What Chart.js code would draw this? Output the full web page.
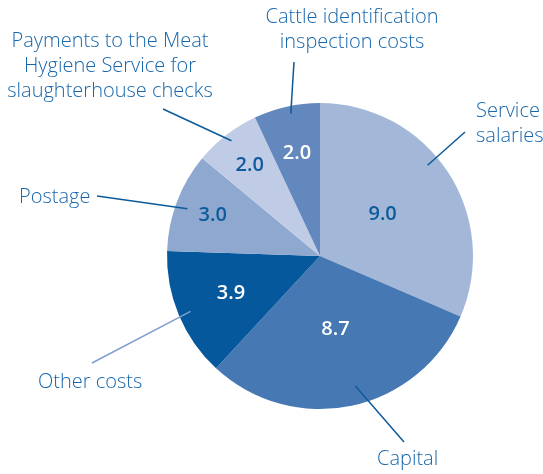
<!DOCTYPE html>
<html>
<head>
<meta charset="utf-8">
<script src="https://cdn.jsdelivr.net/npm/chart.js@4/dist/chart.umd.min.js"></script>
<style>
  html, body { margin: 0; padding: 0; background: #fff; }
  #wrap { width: 543px; height: 474px; }
</style>
</head>
<body>
<div id="wrap"><canvas id="pieChart" width="543" height="474"></canvas></div>
<script>
// data
const categories = [
    'Service salaries',
    'Capital',
    'Other costs',
    'Postage',
    'Payments to the Meat Hygiene Service for slaughterhouse checks',
    'Cattle identification inspection costs'
];
const values = [9.0, 8.7, 3.9, 3.0, 2.0, 2.0];
const valueLabels = ['9.0', '8.7', '3.9', '3.0', '2.0', '2.0'];

// styling
const sliceColors = ['#A3B8D8', '#4679B4', '#04589B', '#8EA8D0', '#C0CCE6', '#6288BE'];
const valueTextColors = ['#0D5A9C', '#FFFFFF', '#FFFFFF', '#0D5A9C', '#0D5A9C', '#FFFFFF'];
const valueRadius = [0.49, 0.49, 0.63, 0.75, 0.75, 0.69];

// outer labels: text lines, anchor, alignment, leader line end
const outerLabels = [
    { lines: ['Service', 'salaries'], x: 476, y: 117, align: 'left', lineEnd: [465, 132], t: 0.44, r: 0.92, lineColor: '#0D5A9A' },
    { lines: ['Capital'], x: 377, y: 465, align: 'left', lineEnd: [404, 442], t: 0.47, r: 0.88, lineColor: '#0D5A9A' },
    { lines: ['Other costs'], x: 38, y: 388, align: 'left', lineEnd: [92, 363], t: 0.49, r: 0.92, lineColor: '#7E9FD0' },
    { lines: ['Postage'], x: 19, y: 203, align: 'left', lineEnd: [97, 196], t: 0.47, r: 0.92, lineColor: '#0D5A9A' },
    { lines: ['Payments to the Meat', 'Hygiene Service for', 'slaughterhouse checks'], x: 110, y: 47, align: 'center', lineEnd: [163, 109], t: 0.51, r: 0.95, lineColor: '#0D5A9A' },
    { lines: ['Cattle identification', 'inspection costs'], x: 352, y: 23, align: 'center', lineEnd: [294, 62], t: 0.54, r: 0.95, lineColor: '#0D5A9A' }
];

const FONT = '"Open Sans", "Noto Sans", sans-serif';

const labelPlugin = {
    id: 'pieLabels',
    afterDatasetsDraw(chart) {
        const ctx = chart.ctx;
        const arcs = chart.getDatasetMeta(0).data;
        ctx.save();
        arcs.forEach((arc, i) => {
            const { x, y, startAngle, endAngle, outerRadius } = arc.getProps(['x', 'y', 'startAngle', 'endAngle', 'outerRadius'], true);

            // value inside the slice
            const mid = (startAngle + endAngle) / 2;
            const vr = outerRadius * valueRadius[i];
            ctx.font = '600 20px ' + FONT;
            ctx.fillStyle = valueTextColors[i];
            ctx.textAlign = 'center';
            ctx.textBaseline = 'middle';
            ctx.fillText(valueLabels[i], x + Math.cos(mid) * vr, y + Math.sin(mid) * vr);

            // leader line
            const lab = outerLabels[i];
            const a = startAngle + (endAngle - startAngle) * lab.t;
            const lr = outerRadius * lab.r;
            ctx.strokeStyle = lab.lineColor;
            ctx.lineWidth = 1.5;
            ctx.beginPath();
            ctx.moveTo(x + Math.cos(a) * lr, y + Math.sin(a) * lr);
            ctx.lineTo(lab.lineEnd[0], lab.lineEnd[1]);
            ctx.stroke();

            // label text
            ctx.font = '300 20px ' + FONT;
            ctx.fillStyle = '#1767AC';
            ctx.textAlign = lab.align;
            ctx.textBaseline = 'alphabetic';
            lab.lines.forEach((line, k) => {
                ctx.fillText(line, lab.x, lab.y + k * 25);
            });
        });
        ctx.restore();
    }
};

new Chart(document.getElementById('pieChart'), {
    type: 'pie',
    data: {
        labels: categories,
        datasets: [{
            data: values,
            backgroundColor: sliceColors,
            borderWidth: 0
        }]
    },
    options: {
        responsive: false,
        animation: false,
        radius: 153,
        layout: {
            padding: { left: 97, right: 0, top: 38, bottom: 0 }
        },
        plugins: {
            legend: { display: false },
            tooltip: { enabled: false }
        }
    },
    plugins: [labelPlugin]
});
</script>
</body>
</html>
